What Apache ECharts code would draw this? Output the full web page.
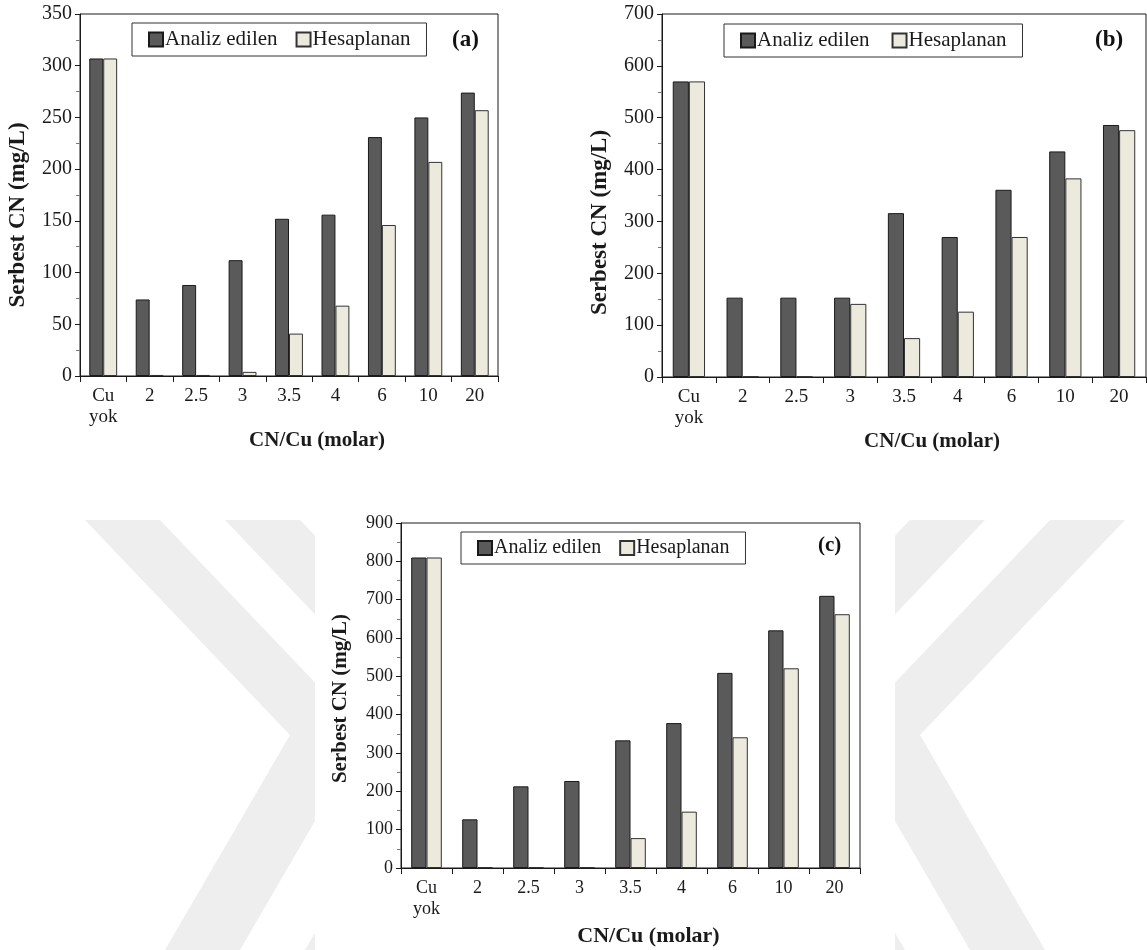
<!DOCTYPE html>
<html>
<head>
<meta charset="utf-8">
<script src="https://cdn.jsdelivr.net/npm/echarts@6/dist/echarts.min.js"></script>
<style>
    html, body { margin: 0; padding: 0; background: #fff; }
    #main { width: 1147px; height: 950px; }
</style>
</head>
<body>
<div id="main"></div>
<script>
// kategoriler (CN/Cu molar oranı)
var categories = ['Cu\nyok', '2', '2.5', '3', '3.5', '4', '6', '10', '20'];

// (a) grafiği
var analizA = [307, 74, 88, 112, 152, 156, 231, 250, 274];
var hesapA = [307, 1, 1, 4, 41, 68, 146, 207, 257];

// (b) grafiği
var analizB = [570, 153, 153, 153, 316, 270, 361, 435, 486];
var hesapB = [570, 1, 1, 141, 75, 126, 270, 383, 476];

// (c) grafiği
var analizC = [810, 127, 213, 227, 333, 378, 509, 620, 710];
var hesapC = [810, 2, 2, 2, 78, 147, 341, 521, 662];

var seriesNames = ['Analiz edilen', 'Hesaplanan'];
var font = "'Liberation Serif', 'Times New Roman', serif";
var ink = '#1a1a1a';

function xAxisOf (i, size, titleSize, gap, shift) {
    return {
        type: 'category',
        gridIndex: i,
        data: categories,
        axisLine: {lineStyle: {color: ink, width: 1}},
        axisTick: {show: true, length: 6, lineStyle: {color: ink}},
        axisLabel: {interval: 0, fontFamily: font, fontSize: size, color: ink, margin: 10, lineHeight: 21},
        name: 'CN/Cu (molar)',
        nameLocation: 'middle',
        nameGap: gap,
        nameTextStyle: {fontFamily: font, fontWeight: 'bold', fontSize: titleSize, color: ink, padding: [0, 0, 0, shift]}
    }
}

function yAxisOf (i, max, step, size, titleSize, down) {
    return {
        type: 'value',
        gridIndex: i,
        min: 0,
        max: max,
        interval: step,
        axisLine: {show: true, lineStyle: {color: ink}},
        axisTick: {show: true, length: 5, lineStyle: {color: ink}},
        minorTick: {show: true, splitNumber: 2, length: 4, lineStyle: {color: '#777'}},
        splitLine: {show: false},
        axisLabel: {fontFamily: font, fontSize: size, color: ink, margin: 8},
        name: 'Serbest CN (mg/L)',
        nameLocation: 'middle',
        nameRotate: 90,
        nameGap: 50,
        nameTextStyle: {fontFamily: font, fontWeight: 'bold', fontSize: titleSize, color: ink, padding: [0, down, 0, 0]}
    }
}

function barsOf (i, analiz, hesap) {
    var base = {
        type: 'bar',
        xAxisIndex: i,
        yAxisIndex: i,
        barWidth: '30%',
        barGap: '0%',
        silent: true
    };
    return [
        Object.assign({}, base, {name: seriesNames[0], data: analiz,
            itemStyle: {color: '#5a5a5a', borderColor: ink, borderWidth: 1}}),
        Object.assign({}, base, {name: seriesNames[1], data: hesap,
            itemStyle: {color: '#ece9dd', borderColor: '#333', borderWidth: 1}})
    ]
}

function legendOf (left, top, size, gap) {
    return {
        left: left,
        top: top,
        data: seriesNames,
        icon: 'rect',
        itemWidth: 14,
        itemHeight: 14,
        itemGap: gap,
        padding: [6, 16, 6, 16],
        borderColor: '#333',
        borderWidth: 1,
        textStyle: {fontFamily: font, fontSize: size, color: ink, padding: [0, 0, 0, -3]}
    }
}

function tagOf (text, left, top, size) {
    return {
        text: text,
        left: left,
        top: top,
        padding: 0,
        textStyle: {fontFamily: font, fontWeight: 'bold', fontSize: size, color: '#111'}
    }
}

// arka plandaki soluk filigran
var wm = '#eeeeee';
var graphics = [
    {type: 'polygon', z: -20, shape: {points: [[85, 520], [160, 520], [365, 735], [240, 950], [165, 950], [290, 735]]}, style: {fill: wm}},
    {type: 'polygon', z: -20, shape: {points: [[225, 520], [300, 520], [505, 735], [380, 950], [305, 950], [430, 735]]}, style: {fill: wm}},
    {type: 'polygon', z: -20, shape: {points: [[1125, 520], [1050, 520], [845, 735], [970, 950], [1045, 950], [920, 735]]}, style: {fill: wm}},
    {type: 'polygon', z: -20, shape: {points: [[985, 520], [910, 520], [705, 735], [830, 950], [905, 950], [780, 735]]}, style: {fill: wm}},
    {type: 'rect', z: -10, shape: {x: 315, y: 512, width: 580, height: 438}, style: {fill: '#fff'}}
];

var myChart = echarts.init(document.getElementById('main'));

var option = {
    animation: false,
    backgroundColor: '#fff',
    graphic: graphics,
    title: [
        tagOf('(a)', 452, 29, 23),
        tagOf('(b)', 1095, 29, 23),
        tagOf('(c)', 818, 535, 21)
    ],
    legend: [
        legendOf(132, 23, 21, 18),
        legendOf(724, 24, 21, 22),
        legendOf(461, 532, 20, 18)
    ],
    grid: [
        {left: 80, top: 14, width: 418, height: 362, show: true, borderColor: ink, borderWidth: 1, outerBoundsMode: 'none'},
        {left: 662, top: 14, width: 484, height: 363, show: true, borderColor: ink, borderWidth: 1, outerBoundsMode: 'none'},
        {left: 401, top: 523, width: 459, height: 345, show: true, borderColor: ink, borderWidth: 1, outerBoundsMode: 'none'}
    ],
    xAxis: [
        xAxisOf(0, 19, 21, 54, 56),
        xAxisOf(1, 19, 21, 54, 56),
        xAxisOf(2, 18, 22, 57, 36)
    ],
    yAxis: [
        yAxisOf(0, 350, 50, 20, 23, 40),
        yAxisOf(1, 700, 100, 20, 23, 54),
        yAxisOf(2, 900, 100, 18, 21, 6)
    ],
    series: [].concat(
        barsOf(0, analizA, hesapA),
        barsOf(1, analizB, hesapB),
        barsOf(2, analizC, hesapC)
    )
};

myChart.setOption(option);
</script>
</body>
</html>
